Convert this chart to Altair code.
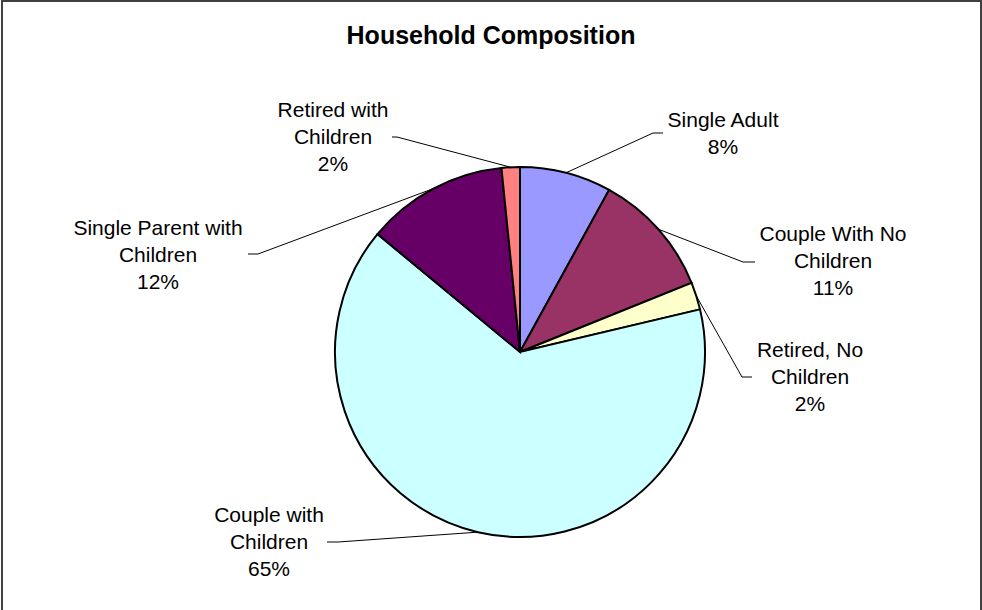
import math
import altair as alt
import pandas as pd

# ---- data ----
categories = ["Single Adult", "Couple With No Children", "Retired, No Children",
              "Couple with Children", "Single Parent with Children", "Retired with Children"]
values = [8.0, 10.9, 2.4, 64.7, 12.4, 1.6]
label_lines = [["Single Adult"], ["Couple With No", "Children"], ["Retired, No", "Children"],
               ["Couple with", "Children"], ["Single Parent with", "Children"], ["Retired with", "Children"]]
colors = ["#9999FF", "#993366", "#FFFFCC", "#CCFFFF", "#660066", "#FF8080"]
title_text = "Household Composition"

# ---- layout (pixels) ----
W, H = 982, 610
CX, CY, R = 520, 352, 185
label_pos = [(723, 127), (833, 241), (810, 357), (269, 522), (158, 235), (333, 117)]
elbows = [((653, 133), (663, 133)), ((743, 262), (755, 262)), ((742, 377), (752, 377)),
          ((338, 542), (327, 542)), ((258, 254), (248, 254)), ((397, 137), (392, 137))]

total = sum(values)
pie_df = pd.DataFrame({"category": categories, "value": values, "idx": range(len(values))})

# labels
lab_rows = []
for i, (c, v) in enumerate(zip(categories, values)):
    pct = f"{round(v / total * 100)}%"
    lab_rows.append({"category": c, "text": "\n".join(label_lines[i] + [pct]),
                     "x": label_pos[i][0], "y": label_pos[i][1]})
lab_df = pd.DataFrame(lab_rows)

# leader lines start at slice edge midpoints, computed from the data
line_rows = []
cum = 0.0
for i, (c, v) in enumerate(zip(categories, values)):
    ang = 2 * math.pi * (cum + v / 2) / total
    cum += v
    ex, ey = CX + R * math.sin(ang), CY - R * math.cos(ang)
    pts = [(ex, ey), elbows[i][0], elbows[i][1]]
    for k, (px, py) in enumerate(pts):
        line_rows.append({"category": c, "k": k, "x": px, "y": py})
line_df = pd.DataFrame(line_rows)

xs = alt.Scale(domain=[0, W], range=[0, W])
ys = alt.Scale(domain=[0, H], range=[0, H])
FONT = "Liberation Sans"

pie = alt.Chart(pie_df).mark_arc(outerRadius=R, stroke="black", strokeWidth=2).encode(
    theta=alt.Theta("value:Q", stack=True),
    color=alt.Color("category:N", scale=alt.Scale(domain=categories, range=colors), legend=None),
    order=alt.Order("idx:Q"),
    x=alt.value(CX), y=alt.value(CY),
)

leaders = alt.Chart(line_df).mark_line(color="black", strokeWidth=1).encode(
    x=alt.X("x:Q", scale=xs, axis=None),
    y=alt.Y("y:Q", scale=ys, axis=None),
    detail="category:N",
    order="k:Q",
)

labels = alt.Chart(lab_df).mark_text(font=FONT, fontSize=21, lineBreak="\n", lineHeight=27,
                                     align="center", baseline="alphabetic", color="black").encode(
    x=alt.X("x:Q", scale=xs, axis=None),
    y=alt.Y("y:Q", scale=ys, axis=None),
    text="text:N",
)

title = alt.Chart(pd.DataFrame({"t": [title_text]})).mark_text(
    font=FONT, fontSize=25, fontWeight="bold", align="center", baseline="alphabetic", color="black"
).encode(x=alt.value(491), y=alt.value(44), text="t:N")

border = alt.Chart(pd.DataFrame({"a": [0]})).mark_rect(
    fill=None, stroke="#404040", strokeWidth=2
).encode(x=alt.value(2), x2=alt.value(981), y=alt.value(1), y2=alt.value(620))

chart = alt.layer(pie, leaders, labels, title, border).properties(
    width=W, height=H, padding=0, autosize=alt.AutoSizeParams(type="none"),
    background="white",
).configure_view(stroke=None)

chart.save("out.html", embed_options={"renderer": "svg", "actions": False})
